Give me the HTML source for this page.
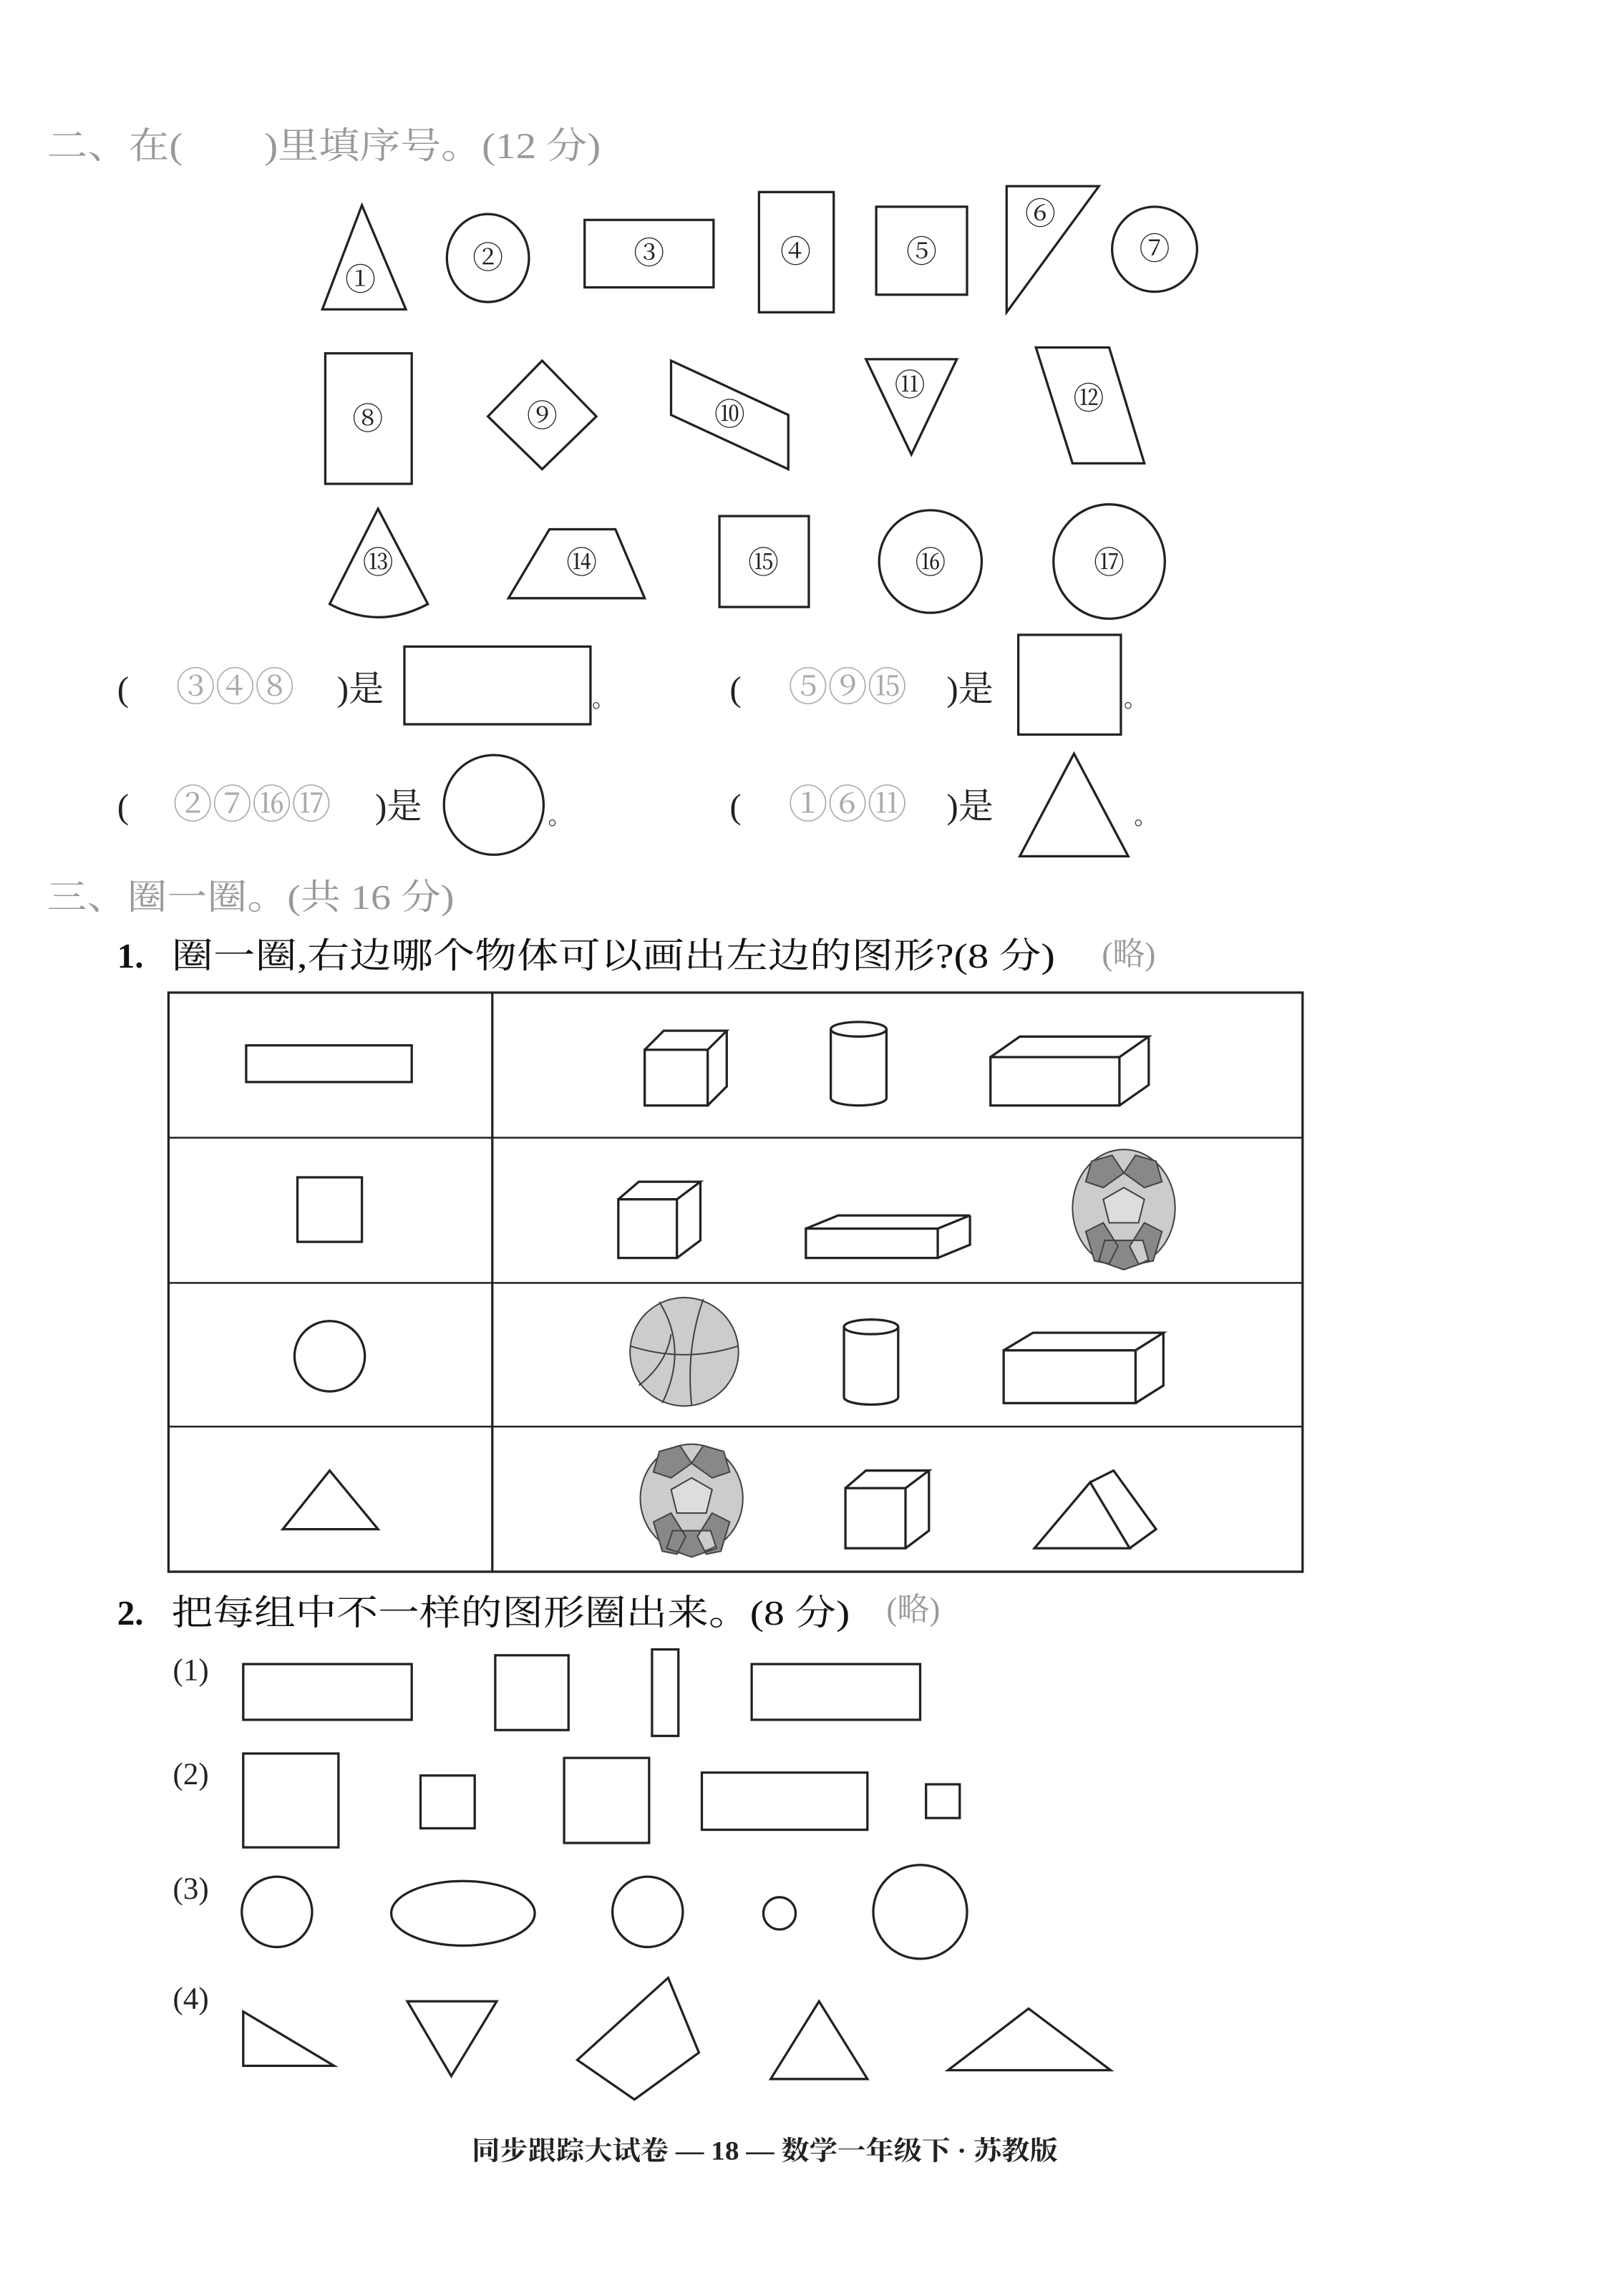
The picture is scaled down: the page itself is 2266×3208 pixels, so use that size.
<!DOCTYPE html>
<html><head><meta charset="utf-8"><style>
html,body{margin:0;padding:0;background:#fff;}
svg{display:block;}
text{font-family:"Liberation Serif","Noto Serif CJK SC","Noto Sans CJK SC",serif;}
</style></head><body>
<svg width="2266" height="3208" viewBox="0 0 1107 1566" preserveAspectRatio="none" xmlns="http://www.w3.org/2000/svg">
<rect width="1107" height="1566" fill="#fff"/>
<g fill="none" stroke="#222" stroke-width="1.6">
<polygon points="247,140 220,211 277,211"/>
<ellipse cx="333" cy="176" rx="28" ry="30"/>
<rect x="399" y="150" width="88" height="46"/>
<rect x="518" y="131" width="51" height="82"/>
<rect x="598" y="141" width="62" height="60"/>
<polygon points="687,127 750,127 687,213"/>
<ellipse cx="788" cy="170" rx="29" ry="29"/>
<rect x="222" y="241" width="59" height="89"/>
<polygon points="370,246 407,284 370,320 333,284"/>
<polygon points="458,246 538,283 538,320 458,283"/>
<polygon points="591,245 653,245 622,310"/>
<polygon points="707,237 757,237 781,316 732,316"/>
<path d="M258,347 L225,412 Q258,430 292,412 Z"/>
<polygon points="375,361 420,361 440,408 347,408"/>
<rect x="491" y="352" width="61" height="62"/>
<ellipse cx="635" cy="383" rx="35" ry="35"/>
<ellipse cx="757" cy="383" rx="38" ry="39"/>
<rect x="276" y="441" width="127" height="53"/>
<rect x="695" y="433" width="70" height="68"/>
<ellipse cx="337" cy="549" rx="34" ry="34"/>
<polygon points="733,514 696,584 770,584"/>
</g>
<g font-size="21" fill="#222" text-anchor="middle" font-family="Liberation Serif,serif">
<text x="246" y="198">①</text><text x="333" y="183">②</text><text x="443" y="180">③</text>
<text x="543" y="179">④</text><text x="629" y="179">⑤</text><text x="710" y="153">⑥</text>
<text x="788" y="177">⑦</text><text x="251" y="293">⑧</text><text x="370" y="291">⑨</text>
<text x="498" y="290">⑩</text><text x="621" y="270">⑪</text><text x="743" y="279">⑫</text>
<text x="258" y="391">⑬</text><text x="397" y="391">⑭</text><text x="521" y="391">⑮</text>
<text x="635" y="391">⑯</text><text x="757" y="391">⑰</text>
</g>
<text x="32" y="108" font-size="25" fill="#999" textLength="378" lengthAdjust="spacingAndGlyphs">二、在(　　)里填序号。(12 分)</text>
<g font-size="24" fill="#222">
<text x="80" y="478">(</text><text x="230" y="478">)是</text><text x="404" y="482" font-size="16">。</text>
<text x="498" y="478">(</text><text x="646" y="478">)是</text><text x="767" y="482" font-size="16">。</text>
<text x="80" y="558">(</text><text x="256" y="558">)是</text><text x="374" y="562" font-size="16">。</text>
<text x="498" y="558">(</text><text x="646" y="558">)是</text><text x="774" y="562" font-size="16">。</text>
</g>
<g font-size="27" fill="#aaa">
<text x="120" y="478">③④⑧</text><text x="538" y="478">⑤⑨⑮</text>
<text x="118" y="558">②⑦⑯⑰</text><text x="538" y="558">①⑥⑪</text>
</g>
<text x="32" y="620" font-size="24" fill="#999" textLength="278" lengthAdjust="spacingAndGlyphs">三、圈一圈。(共 16 分)</text>
<text x="80" y="660" font-size="24" fill="#111" font-weight="bold">1.</text>
<text x="117" y="660" font-size="24" fill="#111" textLength="603" lengthAdjust="spacingAndGlyphs">圈一圈,右边哪个物体可以画出左边的图形?(8 分)</text>
<text x="752" y="658" font-size="22" fill="#999">(略)</text>
<g fill="none" stroke="#222" stroke-width="1.6">
<rect x="115" y="677" width="774" height="395"/>
<line x1="336" y1="677" x2="336" y2="1072"/>
<line x1="115" y1="776" x2="889" y2="776" stroke-width="1.2"/>
<line x1="115" y1="875" x2="889" y2="875" stroke-width="1.2"/>
<line x1="115" y1="973" x2="889" y2="973" stroke-width="1.2"/>
<rect x="168" y="713" width="113" height="25"/>
<path d="M440,716 h43 v38 h-43 Z M440,716 l13,-13 h43 l-13,13 M496,703 v38 l-13,13"/>
<path d="M567,702 v47 a19,5 0 0 0 38,0 v-47"/><ellipse cx="586" cy="702" rx="19" ry="5"/>
<path d="M676,721 h88 v33 h-88 Z M676,721 l20,-14 h88 l-20,14 M784,707 v33 l-20,14"/>
<rect x="203" y="803" width="44" height="44"/>
<path d="M422,818 h40 v40 h-40 Z M422,818 l14,-12 h42 l-16,12 M478,806 v40 l-16,12"/>
<path d="M550,838 h90 v20 h-90 Z M550,838 l22,-9 h90 l-22,9 M662,829 v20 l-22,9"/>
<ellipse cx="225" cy="925" rx="24" ry="24"/>
<path d="M576,905 v48 a18.5,5 0 0 0 37,0 v-48"/><ellipse cx="594.5" cy="905" rx="18.5" ry="5"/>
<path d="M685,921 h90 v36 h-90 Z M685,921 l20,-12 h89 l-19,12 M794,909 v36 l-19,12"/>
<polygon points="225,1003 193,1043 258,1043"/>
<path d="M577,1015 h41 v41 h-41 Z M577,1015 l14,-12 h43 l-16,12 M634,1003 v41 l-16,12"/>
<path d="M706,1056 L744,1011 L771,1056 Z M744,1011 L760,1003 L789,1043 L771,1056"/>
</g>
<g stroke="#444" stroke-width="1">
<ellipse cx="767" cy="824" rx="35" ry="40" fill="#ccc"/>
<polygon points="767,810 781,818 777,834 757,834 753,818" fill="#ddd"/>
<path d="M745,792 l14,-4 8,12 -14,10 -12,-4 Z M789,792 l-14,-4 -8,12 14,10 12,-4 Z M741,840 l12,-6 10,16 -6,12 -10,-2 Z M793,840 l-12,-6 -10,16 6,12 10,-2 Z M754,846 h26 l4,14 -17,6 -17,-6 Z" fill="#888"/>
<ellipse cx="472" cy="1022" rx="35" ry="37" fill="#ccc"/>
<polygon points="472,1008 486,1016 482,1032 462,1032 458,1016" fill="#ddd"/>
<path d="M450,990 l14,-4 8,12 -14,10 -12,-4 Z M494,990 l-14,-4 -8,12 14,10 12,-4 Z M446,1038 l12,-6 10,16 -6,12 -10,-2 Z M498,1038 l-12,-6 -10,16 6,12 10,-2 Z M459,1044 h26 l4,12 -17,6 -17,-6 Z" fill="#888"/>
<ellipse cx="467" cy="922" rx="37" ry="37" fill="#ccc"/>
<path d="M430,918 Q467,930 504,918 M450,888 Q470,920 452,957 M480,886 Q468,920 472,958 M436,945 Q455,930 458,910" fill="none"/>
</g>
<text x="80" y="1108" font-size="24" fill="#111" font-weight="bold">2.</text>
<text x="117" y="1108" font-size="24" fill="#111" textLength="463" lengthAdjust="spacingAndGlyphs">把每组中不一样的图形圈出来。(8 分)</text>
<text x="605" y="1105" font-size="22" fill="#999">(略)</text>
<g font-size="21" fill="#222">
<text x="118" y="1146">(1)</text><text x="118" y="1217">(2)</text><text x="118" y="1295">(3)</text><text x="118" y="1370">(4)</text>
</g>
<g fill="none" stroke="#222" stroke-width="1.6">
<rect x="166" y="1135" width="115" height="38"/><rect x="338" y="1129" width="50" height="51"/>
<rect x="445" y="1125" width="18" height="59"/><rect x="513" y="1135" width="115" height="38"/>
<rect x="166" y="1196" width="65" height="64"/><rect x="287" y="1211" width="37" height="36"/>
<rect x="385" y="1199" width="58" height="58"/><rect x="479" y="1209" width="113" height="39"/>
<rect x="632" y="1217" width="23" height="23"/>
<circle cx="189" cy="1304" r="24"/><ellipse cx="316" cy="1305" rx="49" ry="22"/>
<circle cx="442" cy="1304" r="24"/><circle cx="532" cy="1305" r="11"/><circle cx="628" cy="1304" r="32"/>
<polygon points="166,1372 166,1409 228,1409"/>
<polygon points="278,1365 339,1365 308,1416"/>
<polygon points="456,1349 477,1400 433,1432 394,1405"/>
<polygon points="559,1365 526,1418 592,1418"/>
<polygon points="702,1370 647,1412 758,1412"/>
</g>
<text x="322" y="1473" font-size="18" font-weight="bold" fill="#222" textLength="400" lengthAdjust="spacingAndGlyphs">同步跟踪大试卷 — 18 — 数学一年级下 · 苏教版</text>
</svg>
</body></html>
